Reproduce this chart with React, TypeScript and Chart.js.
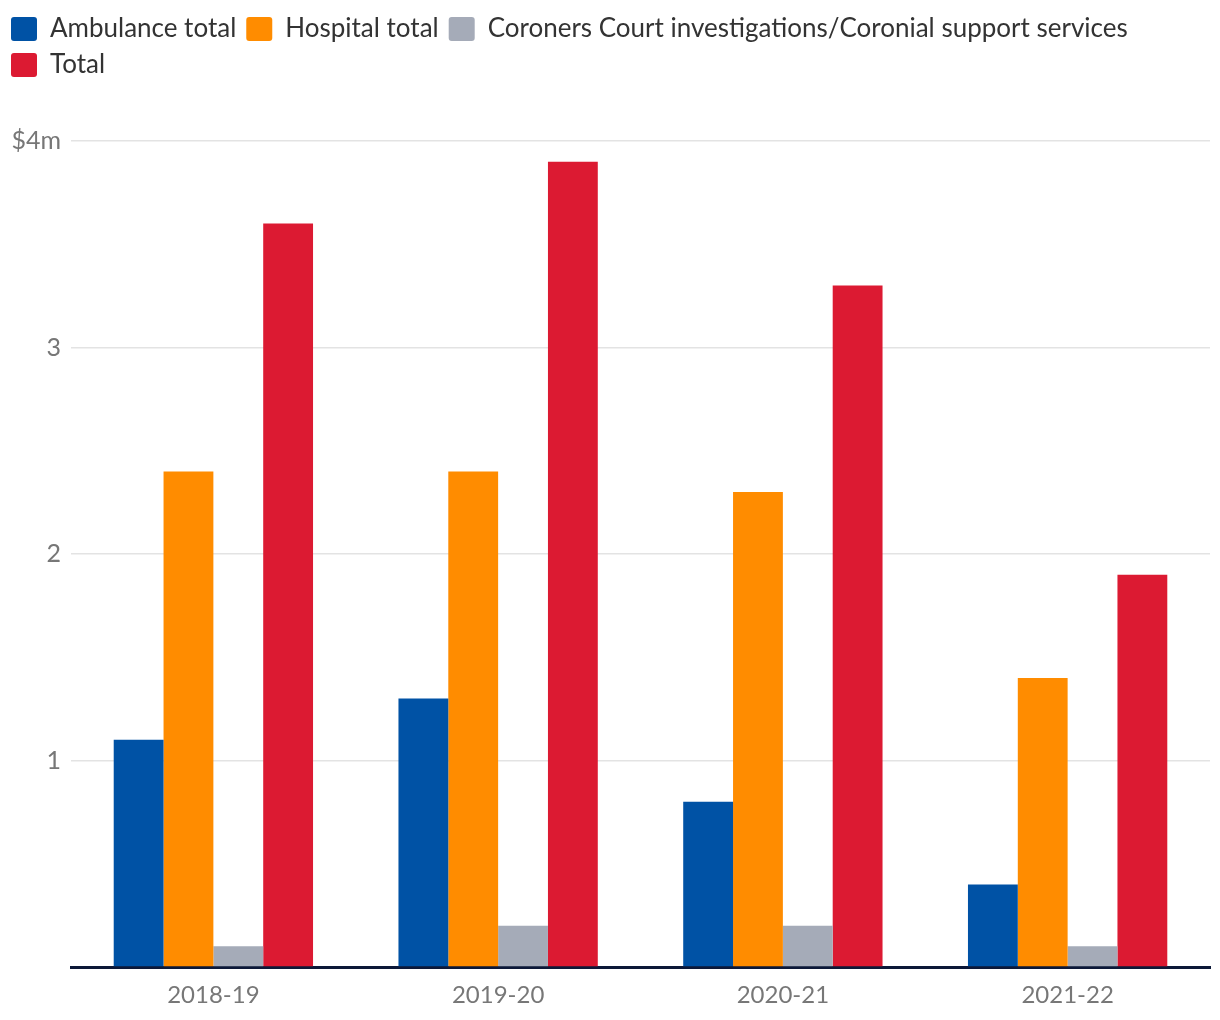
import React, { useEffect, useRef } from "react";
import { Chart, registerables } from "chart.js";

Chart.register(...registerables);

const categories = ["2018-19", "2019-20", "2020-21", "2021-22"];
const ambulance = [1.1, 1.3, 0.8, 0.4];
const hospital = [2.4, 2.4, 2.3, 1.4];
const coroners = [0.1, 0.2, 0.2, 0.1];
const total = [3.6, 3.9, 3.3, 1.9];
const seriesNames = [
  "Ambulance total",
  "Hospital total",
  "Coroners Court investigations/Coronial support services",
  "Total",
];
const colors = ["#0052a5", "#ff8c00", "#a5abb8", "#dc1a32"];
const tickLabels: Record<number, string> = { 0: "", 1: "1", 2: "2", 3: "3", 4: "$4m" };

export default function App() {
  const ref = useRef<HTMLCanvasElement | null>(null);
  useEffect(() => {
    document.body.style.margin = "0";
    const font = "Lato, 'Noto Sans', sans-serif";
    const values = [ambulance, hospital, coroners, total];
    const chart = new Chart(ref.current!, {
      type: "bar",
      data: {
        labels: categories,
        datasets: values.map((v, i) => ({
          label: seriesNames[i],
          data: v,
          backgroundColor: colors[i],
          borderWidth: 0,
          categoryPercentage: 0.7,
          barPercentage: 1,
        })),
      },
      options: {
        animation: false,
        responsive: false,
        maintainAspectRatio: false,
        layout: { padding: { top: 6, right: 10, bottom: 0, left: 1 } },
        plugins: {
          legend: {
            position: "top",
            align: "start",
            labels: {
              boxWidth: 26,
              boxHeight: 24,
              padding: 10,
              color: "#333",
              font: { family: font, size: 26 },
              useBorderRadius: true,
              borderRadius: 3,
            },
          },
          tooltip: { enabled: false },
        },
        scales: {
          x: {
            grid: { display: false, drawTicks: false },
            border: { display: true, color: "#0c1838", width: 3 },
            ticks: { color: "#777", font: { family: font, size: 24 }, padding: 14 },
            afterFit: (s: any) => {
              s.height = 53;
            },
          },
          y: {
            min: 0,
            max: 4,
            grid: { color: "#e3e3e3", drawTicks: false, lineWidth: 1.5 },
            border: { display: false },
            ticks: {
              stepSize: 1,
              color: "#777",
              padding: 10,
              font: { family: font, size: 25 },
              callback: (v: any) => tickLabels[Number(v)] ?? String(v),
            },
            afterFit: (s: any) => {
              s.width = 70;
            },
          },
        },
      },
      plugins: [
        {
          id: "legendMargin",
          beforeInit(c: any) {
            const orig = c.legend.fit;
            c.legend.fit = function () {
              orig.bind(c.legend)();
              this.height += 53;
            };
          },
        },
      ],
    } as any);
    return () => chart.destroy();
  }, []);
  return (
    <div style={{ width: 1220, height: 1020 }}>
      <canvas ref={ref} width={1220} height={1020} style={{ display: "block" }} />
    </div>
  );
}
